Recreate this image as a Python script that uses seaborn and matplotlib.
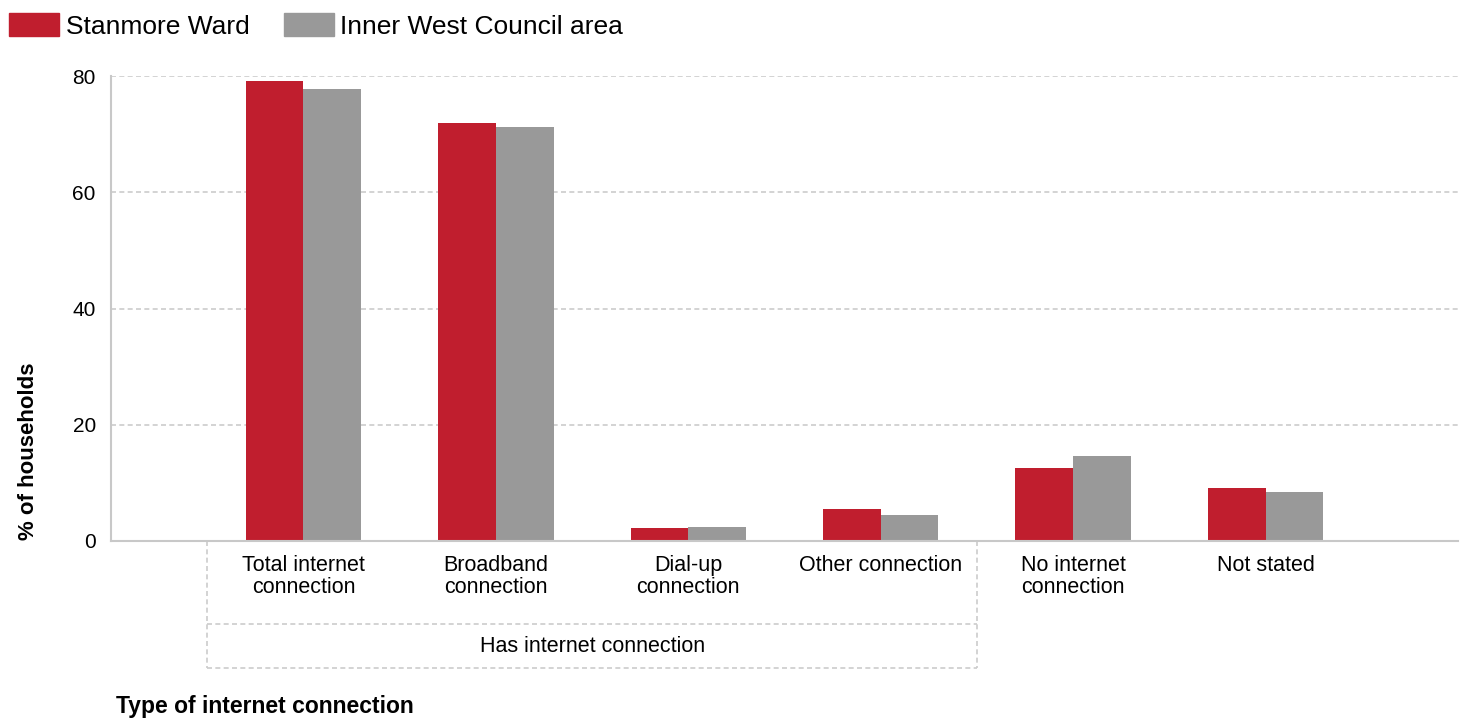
import pandas as pd
from matplotlib import pyplot as plt
from matplotlib import transforms
from matplotlib.patches import Patch
import seaborn as sns

categories = ["Total internet\nconnection", "Broadband\nconnection", "Dial-up\nconnection",
              "Other connection", "No internet\nconnection", "Not stated"]
stanmore = [79.1, 71.9, 2.2, 5.5, 12.5, 9.2]
inner_west = [77.8, 71.2, 2.4, 4.5, 14.6, 8.4]
series = ["Stanmore Ward", "Inner West Council area"]
colors = ["#c01e2e", "#999999"]

df = pd.DataFrame({
    "category": categories * 2,
    "value": stanmore + inner_west,
    "area": [series[0]] * len(categories) + [series[1]] * len(categories),
})

sns.set_style("white")
plt.rcParams["font.family"] = ["Liberation Sans", "DejaVu Sans"]
plt.rcParams["text.color"] = "black"
plt.rcParams["xtick.labelcolor"] = "black"
plt.rcParams["ytick.labelcolor"] = "black"

fig = plt.figure(figsize=(14.67, 7.22), dpi=100)
ax = fig.add_axes([0.0757, 0.2507, 0.9182, 0.644])

sns.barplot(data=df, x="category", y="value", hue="area", order=categories,
            hue_order=series, palette=colors, width=0.6, saturation=1,
            linewidth=0, ax=ax, legend=False)

ax.set_xlim(-1, 6)
ax.set_ylim(0, 80)
ax.set_yticks([0, 20, 40, 60, 80])
ax.yaxis.grid(True, color="#cccccc", linestyle=(0, (3, 2)), linewidth=1.2)
ax.set_axisbelow(True)
for s in ["top", "right"]:
    ax.spines[s].set_visible(False)
for s in ["left", "bottom"]:
    ax.spines[s].set_color("#c8c8c8")
    ax.spines[s].set_linewidth(1.5)
ax.tick_params(axis="y", length=5, color="#c8c8c8", labelsize=15, pad=6, labelcolor="black")
ax.tick_params(axis="x", length=0, labelsize=15.5, pad=10, labelcolor="black")
for lbl in ax.get_xticklabels():
    lbl.set_linespacing(1.1)
ax.set_xlabel("")
ax.set_ylabel("")

# group bracket under the first four categories
tr = transforms.blended_transform_factory(ax.transData, ax.transAxes)
box = dict(color="#cccccc", linestyle=(0, (3, 2)), linewidth=1.2, clip_on=False, transform=tr)
ax.plot([-0.5, -0.5], [0, -0.273], **box)
ax.plot([3.5, 3.5], [0, -0.273], **box)
ax.plot([-0.5, 3.5], [-0.1785, -0.1785], **box)
ax.plot([-0.5, 3.5], [-0.273, -0.273], **box)
ax.text(1.5, -0.226, "Has internet connection", transform=tr, ha="center", va="center",
        fontsize=15.5, color="black")

fig.text(0.012, 0.252, "% of households", rotation=90, ha="left", va="bottom",
         fontsize=16, fontweight="bold", color="black")
fig.text(0.079, 0.006, "Type of internet connection", ha="left", va="bottom",
         fontsize=16.5, fontweight="bold", color="black")

handles = [Patch(color=c) for c in colors]
leg = fig.legend(handles, series, loc="upper left", bbox_to_anchor=(-0.003, 1.0), ncol=2,
                 frameon=False, fontsize=19, handlelength=1.9, handleheight=0.95,
                 handletextpad=0.25, columnspacing=1.3, borderaxespad=0.1)
for t in leg.get_texts():
    t.set_color("black")

fig.savefig("out.png", dpi=100)
